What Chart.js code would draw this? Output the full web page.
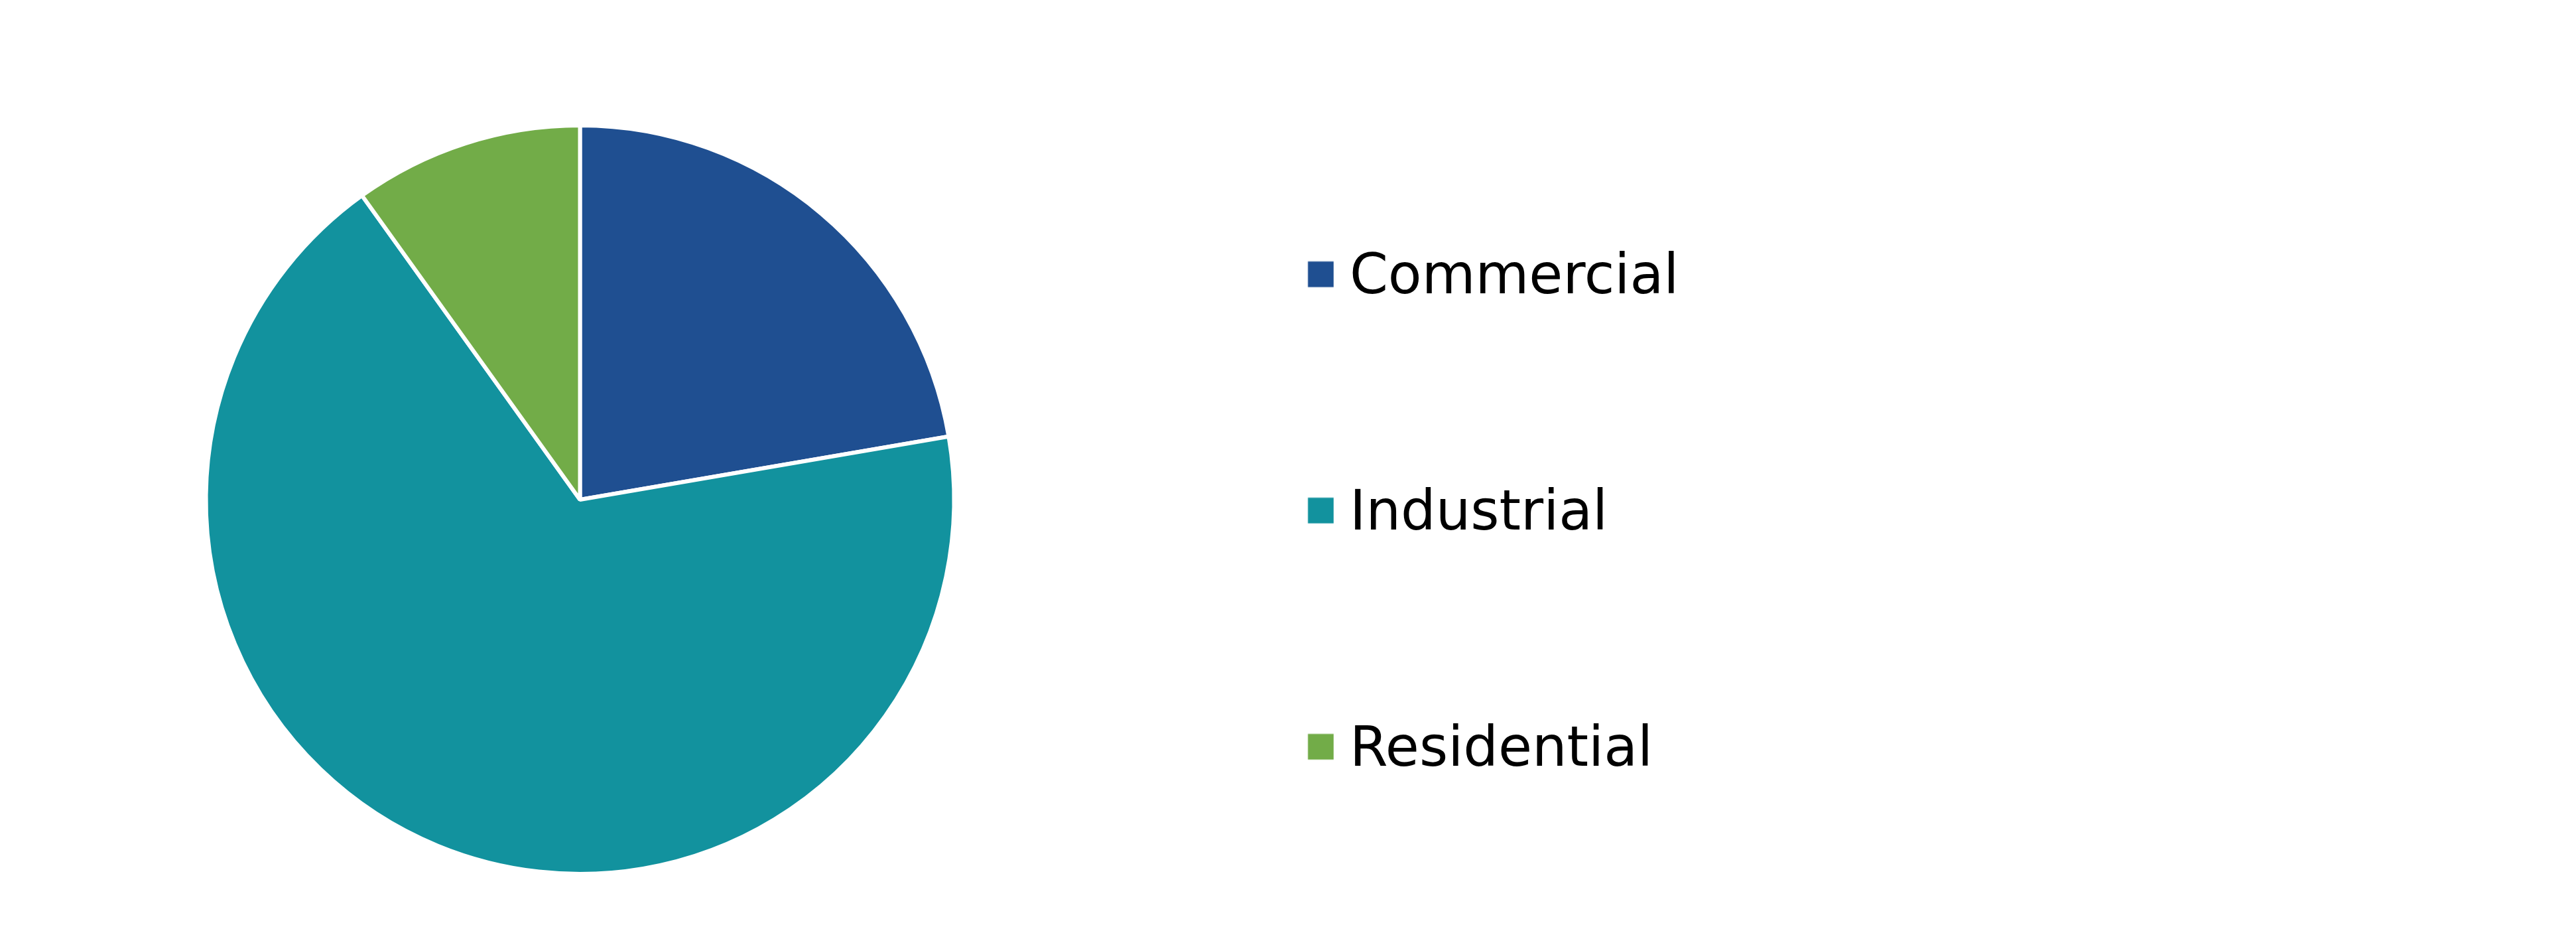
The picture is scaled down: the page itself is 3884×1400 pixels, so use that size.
<!DOCTYPE html>
<html>
<head>
<meta charset="utf-8">
<script src="https://cdn.jsdelivr.net/npm/chart.js@4.4.1/dist/chart.umd.min.js"></script>
<style>
  html, body { margin: 0; padding: 0; background: #ffffff; }
  #wrap { width: 3884px; height: 1400px; }
</style>
</head>
<body>
<div id="wrap"><canvas id="c" width="3884" height="1400"></canvas></div>
<script>
const categories = ['Commercial', 'Industrial', 'Residential'];
const shares = [22.3, 67.8, 9.9];
const sliceColors = ['#1F4F91', '#12929E', '#72AC48'];

function makeMarker(color) {
  const m = document.createElement('canvas');
  m.width = 56; m.height = 56;
  const g = m.getContext('2d');
  g.fillStyle = color;
  g.fillRect(16.3, 1.5, 38.7, 38.7);
  return m;
}
const markers = sliceColors.map(makeMarker);

const baseGenerate = (Chart.overrides.pie && Chart.overrides.pie.plugins.legend.labels.generateLabels) ||
  Chart.controllers.doughnut.overrides.plugins.legend.labels.generateLabels;

new Chart(document.getElementById('c'), {
  type: 'pie',
  data: {
    labels: categories,
    datasets: [{
      data: shares,
      backgroundColor: sliceColors,
      borderColor: '#ffffff',
      borderWidth: 6,
      radius: 564,
      clip: false
    }]
  },
  options: {
    responsive: false,
    devicePixelRatio: 1,
    animation: false,
    layout: {
      padding: { left: 0, right: 1345, top: 106, bottom: 0 }
    },
    plugins: {
      tooltip: { enabled: false },
      legend: {
        display: true,
        position: 'right',
        align: 'start',
        maxWidth: 790,
        title: {
          display: true,
          text: '',
          font: { size: 10, lineHeight: 1 },
          padding: { top: 0, bottom: 38 }
        },
        labels: {
          padding: 225,
          usePointStyle: true,
          boxWidth: 19.4,
          boxHeight: 39,
          color: '#000000',
          font: { family: 'DejaVu Sans', size: 83, lineHeight: '131px' },
          generateLabels(chart) {
            return baseGenerate(chart).map((it, i) => Object.assign({}, it, {
              text: [it.text],
              lineWidth: 0,
              pointStyle: markers[i]
            }));
          }
        }
      }
    }
  }
});
</script>
</body>
</html>
